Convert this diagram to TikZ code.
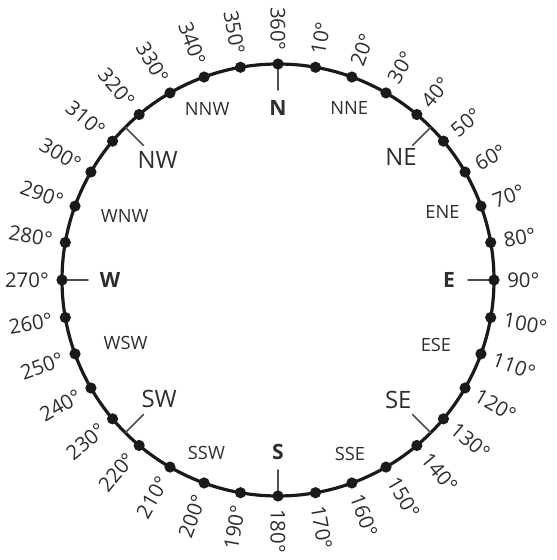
\documentclass[tikz,border=0pt]{standalone}
\usepackage{fontspec}
\setmainfont{Open Sans}
\usetikzlibrary{positioning}
\definecolor{rim}{HTML}{1A1A1A}
\definecolor{ink}{HTML}{2E2E2E}
\definecolor{tickgray}{HTML}{4D4D4D}
\tikzset{
    every picture/.style={line cap=round,line join=round},
    rimline/.style={draw=rim,line width=0.8mm},
    rimdot/.style={circle,fill=rim,inner sep=0pt,minimum size=2.8mm},
    tickmark/.style={draw=tickgray,line width=0.4mm},
    deglabel/.style={text=ink,inner sep=0pt,font=\fontsize{14.5}{16}\selectfont},
    cardlabel/.style={text=ink,font=\fontsize{15}{17}\selectfont\bfseries},
    quadlabel/.style={text=ink,font=\fontsize{17}{19}\selectfont},
    minorlabel/.style={text=ink,font=\fontsize{13}{15}\selectfont}
}

\begin{document}
\begin{tikzpicture}[x=0.25mm,y=0.25mm]
  \useasboundingbox (-278,-280) rectangle (278,280);
  \coordinate (centre) at (0,0);
  \draw[rimline] (centre) circle (216);

  % short ticks pointing inwards
  \foreach \b/\d in {0/N,45/NE,90/E,135/SE,180/S,225/SW,270/W,315/NW}{
    \coordinate (rim\d) at ({90-\b}:216);
    \coordinate (tip\d) at ({90-\b}:190);
    \draw[tickmark] (rim\d) -- (tip\d);
  }

  % dots and degree marks, east half reads outwards
  \foreach \b in {10,20,...,180}{
    \node[rimdot] (dot\b) at ({90-\b}:216) {};
    \node[deglabel,anchor=west,rotate={90-\b}] (deg\b) at ({90-\b}:229) {\b°};
  }
  % west half reads inwards
  \foreach \b in {190,200,...,360}{
    \node[rimdot] (dot\b) at ({90-\b}:216) {};
    \node[deglabel,anchor=east,rotate={270-\b}] (deg\b) at ({90-\b}:229) {\b°};
  }

  % point names
  \foreach \b/\d/\r in {0/N/172,90/E/171,180/S/172,270/W/168}
    \node[cardlabel] (pt\d) at ({90-\b}:\r) {\d};
  \foreach \b/\d/\r in {45/NE/174,135/SE/170,225/SW/168,315/NW/170}
    \node[quadlabel] (pt\d) at ({90-\b}:\r) {\d};
  \foreach \b/\d/\r in {22.5/NNE/186,67.5/ENE/178,112.5/ESE/171,157.5/SSE/188,
      202.5/SSW/187,247.5/WSW/165,292.5/WNW/166,337.5/NNW/185}
    \node[minorlabel] (pt\d) at ({90-\b}:\r) {\d};
\end{tikzpicture}
\end{document}
